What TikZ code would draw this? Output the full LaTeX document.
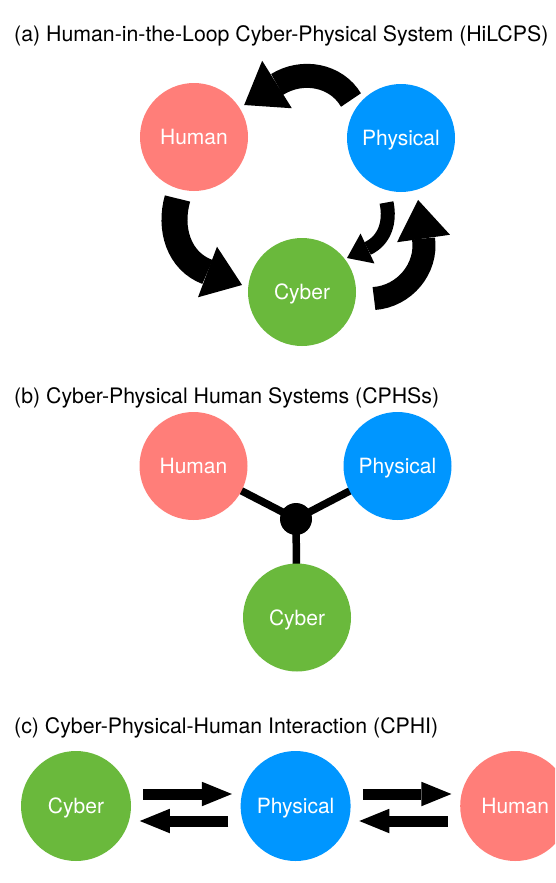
\documentclass[tikz,border=0pt]{standalone}
\usepackage{fontspec}
\setmainfont{TeX Gyre Heros}
\usetikzlibrary{calc,arrows.meta,backgrounds}
\definecolor{humc}{HTML}{FF7E79}
\definecolor{phyc}{HTML}{0096FF}
\definecolor{cybc}{HTML}{6AB93C}
\tikzset{
  ball/.style={circle,inner sep=0pt,outer sep=0pt,minimum size=108pt,text=white,
    font=\fontsize{21}{25}\selectfont,text height=15pt,text depth=0pt},
  ballc/.style={ball,minimum size=110pt},
  title/.style={anchor=base west,inner sep=0pt,font=\fontsize{21.3}{25}\selectfont},
  link/.style={line width=7.5pt,draw=black},
  flat/.style={line width=11pt,-{Triangle[length=30pt,width=24.5pt,line width=0pt]}}
}
\begin{document}
\begin{tikzpicture}[x=1pt,y=1pt]
\clip (0,0) rectangle (555,-883);
% ---------- (a)
\node[title] (ta) at (14,-42) {(a) Human-in-the-Loop Cyber-Physical System (HiLCPS)};
\node[ball,fill=humc] (ah) at (194,-137) {Human};
\node[ball,fill=phyc] (ap) at (401,-138) {Physical};
\node[ball,fill=cybc] (ac) at (302,-292) {Cyber};
% Physical -> Human
\draw[line width=24pt,-{Triangle[length=38.7pt,width=56pt,line width=0pt]},shorten >=-38.7pt]
  ($(ap)+(-50,38)$) to[out=121,in=32] ($(ah)+(83,52.5)$);
% Human -> Cyber
\draw[line width=26pt,-{Triangle[length=36.9pt,width=54pt,line width=0pt]},shorten >=-36.9pt]
  ($(ah)+(-16.5,-61.5)$) to[out=254,in=159.4] ($(ac)+(-94.5,20)$);
% Physical -> Cyber (small)
\draw[line width=14pt,-{Triangle[length=22.6pt,width=33pt,line width=0pt]},shorten >=-22.6pt]
  ($(ap)+(-14.5,-64.5)$) to[out=282,in=24.9] ($(ac)+(65.5,43.5)$);
% Cyber -> Physical (large)
\draw[line width=23pt,-{Triangle[length=38.9pt,width=53.5pt,line width=0pt]},shorten >=-38.9pt]
  ($(ac)+(72,-6.5)$) to[out=4,in=278] ($(ap)+(22.5,-100.5)$);
% ---------- (b)
\node[title] (tb) at (14,-403.6) {(b) Cyber-Physical Human Systems (CPHSs)};
\node[ball,fill=humc] (bh) at (193.5,-466) {Human};
\node[ball,fill=phyc] (bp) at (397.5,-466) {Physical};
\node[ball,fill=cybc] (bc) at (297,-617.5) {Cyber};
\node[circle,fill=black,minimum size=32pt,inner sep=0pt] (hub) at (296,-519) {};
\begin{pgfonlayer}{background}
\fill[white] (0,0) rectangle (555,-883);
\draw[link] (hub.center) -- (bh.center);
\draw[link] (hub.center) -- (bp.center);
\draw[link] (hub.center) -- (bc.center);
\end{pgfonlayer}
% ---------- (c)
\node[title] (tc) at (14,-733.6) {(c) Cyber-Physical-Human Interaction (CPHI)};
\node[ballc,fill=cybc] (cc) at (76,-806) {Cyber};
\node[ballc,fill=phyc] (cp) at (295.6,-806) {Physical};
\node[ballc,fill=humc] (ch) at (515.2,-806) {Human};
\draw[flat] ($(cc)+(67.4,12)$) -- ($(cp)+(-63.7,12)$);
\draw[flat] ($(cp)+(-67.3,-15)$) -- ($(cc)+(63.8,-15)$);
\draw[flat] ($(cp)+(67.3,12)$) -- ($(ch)+(-63.8,12)$);
\draw[flat] ($(ch)+(-67.4,-15)$) -- ($(cp)+(63.7,-15)$);
\end{tikzpicture}
\end{document}
